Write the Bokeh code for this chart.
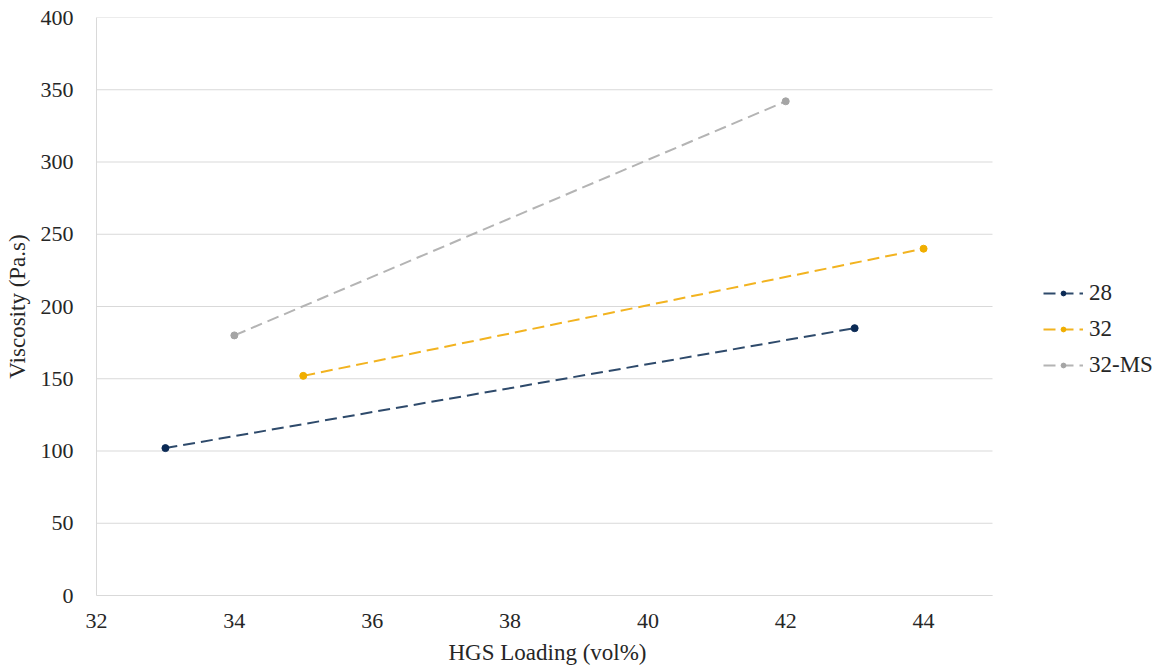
from bokeh.plotting import figure
from bokeh.models import Range1d, FixedTicker, Legend, LegendItem, Title
from bokeh.embed import file_html
from bokeh.resources import INLINE

# HGS loading (vol%) and measured viscosity (Pa.s) for each series
x_28 = [33, 43]
y_28 = [102, 185]
x_32 = [35, 44]
y_32 = [152, 240]
x_32ms = [34, 42]
y_32ms = [180, 342]

series_names = ["28", "32", "32-MS"]
line_colors = ["#2E4A6B", "#F2B320", "#B4B4B4"]
marker_colors = ["#0B2A55", "#F0AE00", "#A5A5A5"]

x_ticks = [32, 34, 36, 38, 40, 42, 44]
y_ticks = [0, 50, 100, 150, 200, 250, 300, 350, 400]
x_min, x_max = 32, 45
y_min, y_max = 0, 400

FONT = "Liberation Serif"

# The plotting area is 896 px wide for x in [32, 45]; the frame is widened to
# the right so the legend can sit beside the data area without being clipped.
AREA_W = 896
FRAME_W = 1074
x_end = x_min + (x_max - x_min) * FRAME_W / AREA_W

p = figure(
    frame_width=FRAME_W, frame_height=578,
    output_backend="svg", toolbar_location=None,
    x_range=Range1d(x_min, x_end), y_range=Range1d(y_min, y_max),
    min_border_left=96, min_border_right=0,
    min_border_top=17, min_border_bottom=76,
)
p.outline_line_color = None
p.background_fill_color = "white"
p.border_fill_color = "white"

# horizontal grid lines limited to the data area
p.xgrid.grid_line_color = None
p.ygrid.grid_line_color = None
p.segment(x0=[x_min] * len(y_ticks), x1=[x_max] * len(y_ticks),
          y0=y_ticks, y1=y_ticks, line_color="#D9D9D9", line_width=1)

p.xaxis.ticker = FixedTicker(ticks=x_ticks)
p.yaxis.ticker = FixedTicker(ticks=y_ticks)
p.xaxis.bounds = (x_min, x_max)

for ax in (p.xaxis[0], p.yaxis[0]):
    ax.axis_line_color = "#D9D9D9"
    ax.axis_line_width = 1
    ax.major_tick_line_color = None
    ax.minor_tick_line_color = None
    ax.major_label_text_font = FONT
    ax.major_label_text_font_size = "22px"
    ax.major_label_text_color = "#262626"
    ax.axis_label_text_font = FONT
    ax.axis_label_text_font_size = "23px"
    ax.axis_label_text_font_style = "normal"
    ax.axis_label_text_color = "#262626"

p.yaxis.axis_label = "Viscosity (Pa.s)"
p.xaxis.major_label_standoff = 12
p.yaxis.major_label_standoff = 17
p.yaxis.axis_label_standoff = 8

# x-axis title, centred under the data area rather than the whole frame
x_title = Title(
    text="HGS Loading (vol%)", align="left", offset=352,
    text_font=FONT, text_font_size="23px", text_font_style="normal",
    text_color="#262626", standoff=15,
)
p.add_layout(x_title, "below")

items = []
for name, xs, ys, lc, mc in zip(series_names, [x_28, x_32, x_32ms], [y_28, y_32, y_32ms], line_colors, marker_colors):
    ln = p.line(xs, ys, line_color=lc, line_width=2, line_dash="12 6")
    sc = p.scatter(xs, ys, size=7, fill_color=mc, line_color=mc)
    items.append(LegendItem(label=name, renderers=[ln, sc]))

legend = Legend(
    items=items,
    location=(947, 217),
    orientation="vertical",
    padding=0, spacing=10, margin=0,
    glyph_width=40, glyph_height=12,
    label_height=12, label_standoff=6,
    label_text_font=FONT, label_text_font_size="23px",
    label_text_color="#262626",
    border_line_color=None, background_fill_alpha=0,
)
p.add_layout(legend, "center")

open("out.html", "w").write(file_html(p, INLINE))
